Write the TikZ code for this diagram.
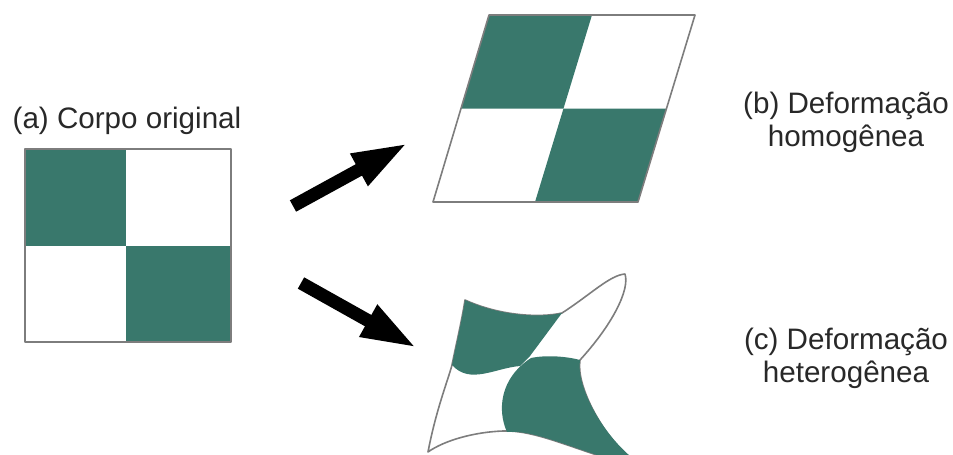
\documentclass[tikz,border=0pt]{standalone}
\usepackage{fontspec}
\setmainfont{Liberation Sans}
\usetikzlibrary{arrows.meta}
\definecolor{teal1}{RGB}{57,120,108}
\definecolor{edgegray}{RGB}{125,125,125}
\definecolor{txt}{RGB}{40,40,40}
\tikzset{
  edge/.style={draw=edgegray,line width=1.6pt,line join=round},
  patch/.style={fill=teal1},
  bigarrow/.style={draw=black,line width=13pt,-{Triangle[length=56pt,width=33pt]}},
  lbl/.style={text=txt,font=\fontsize{29.6}{33}\selectfont,align=center,inner sep=0pt}
}
\begin{document}
\begin{tikzpicture}[x=1pt,y=-1pt]
\useasboundingbox (0,0) rectangle (953,455);
% (a) original square
\fill[patch] (25,149) rectangle (126,246);
\fill[patch] (126,246) rectangle (231,342);
\draw[edge] (25,149) rectangle (231,342);
\node[lbl] (la) at (127,121) {(a) Corpo original};
% (b) homogeneous
\fill[patch] (489,15) -- (592,15) -- (563.5,108.5) -- (461,108.5) -- cycle;
\fill[patch] (563.5,108.5) -- (666.5,108.5) -- (638,202) -- (535,202) -- cycle;
\draw[edge] (489,15) -- (695,15) -- (638,202) -- (433,202) -- cycle;
\node[lbl] (lb) at (846,122) {(b) Deformação\\homogênea};
% (c) heterogeneous
\draw[edge] (428,452) .. controls (436,410) and (448,380) .. (452,365)
  .. controls (456,345) and (462,320) .. (465,300)
  .. controls (500,316) and (540,318) .. (562,313)
  .. controls (590,295) and (610,275) .. (625,274)
  .. controls (630,290) and (612,325) .. (580,360)
  .. controls (576,385) and (600,430) .. (627,456)
  -- (600,456) .. controls (560,443) and (530,430) .. (503,431)
  .. controls (475,432) and (445,440) .. (428,452) -- cycle;
\fill[patch] (465,300) .. controls (500,316) and (540,318) .. (562,313)
  -- (530,356) -- (520,366)
  .. controls (495,368) and (470,385) .. (452,365)
  .. controls (456,345) and (462,320) .. (465,300) -- cycle;
\fill[patch] (531,358) .. controls (545,355) and (565,356) .. (580,360)
  .. controls (576,385) and (600,430) .. (630,456)
  -- (600,456) .. controls (560,443) and (530,430) .. (507,432)
  .. controls (497,410) and (500,378) .. (531,358) -- cycle;
\node[lbl] (lc) at (846,358) {(c) Deformação\\heterogênea};
% arrows
\coordinate (t1) at (293,206);
\coordinate (h1) at (408,143);
\coordinate (t2) at (301,283);
\coordinate (h2) at (417,348);
\draw[bigarrow] (t1) -- (h1);
\draw[bigarrow] (t2) -- (h2);
\end{tikzpicture}
\end{document}
